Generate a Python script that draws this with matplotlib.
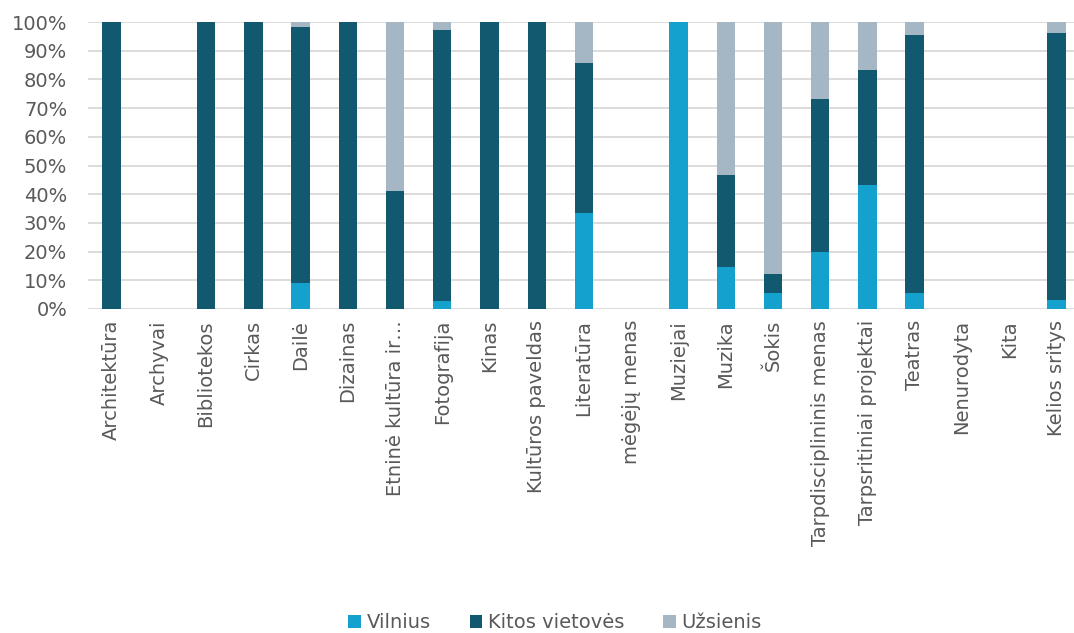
import numpy as np
import matplotlib
matplotlib.use("Agg")
import matplotlib.pyplot as plt
from matplotlib.ticker import PercentFormatter

# Sritys ir dalys (%)
sritys = ["Architektūra", "Archyvai", "Bibliotekos", "Cirkas", "Dailė", "Dizainas",
          "Etninė kultūra ir…", "Fotografija", "Kinas", "Kultūros paveldas",
          "Literatūra", "mėgėjų menas", "Muziejai", "Muzika", "Šokis",
          "Tarpdisciplininis menas", "Tarpsritiniai projektai", "Teatras",
          "Nenurodyta", "Kita", "Kelios sritys"]
vilnius = [0, 0, 0, 0, 9.0, 0, 0, 2.8, 0, 0, 33.3, 0, 100, 14.6, 5.6, 20.0, 43.3, 5.6, 0, 0, 3.2]
kitos = [100, 0, 100, 100, 89.4, 100, 41.0, 94.5, 100, 100, 52.4, 0, 0, 32.1, 6.6, 53.3, 40.0, 90.0, 0, 0, 93.0]
uzsienis = [0, 0, 0, 0, 1.6, 0, 59.0, 2.7, 0, 0, 14.3, 0, 0, 53.3, 87.8, 26.7, 16.7, 4.4, 0, 0, 3.8]

plt.rcParams['font.family'] = ['DejaVu Sans']
pilka = "#595959"

fig = plt.figure(figsize=(10.74, 6.33), dpi=100)
ax = fig.add_axes([88/1074, 1 - 309/633, (1080 - 88)/1074, (309 - 22)/633])

x = np.arange(len(sritys))
v = np.array(vilnius) / 100
k = np.array(kitos) / 100
u = np.array(uzsienis) / 100
w = 0.39
ax.bar(x, v, w, color="#15A1CE", label="Vilnius", zorder=3)
ax.bar(x, k, w, bottom=v, color="#12586F", label="Kitos vietovės", zorder=3)
ax.bar(x, u, w, bottom=v + k, color="#A5B6C4", label="Užsienis", zorder=3)

ax.set_xlim(-0.5, len(sritys) - 0.5)
ax.set_ylim(0, 1)
ax.set_yticks(np.arange(0, 1.01, 0.1))
ax.yaxis.set_major_formatter(PercentFormatter(1.0, decimals=0))
ax.grid(axis="y", color="#D9D9D9", linewidth=1.3, zorder=0)
for s in ax.spines.values():
    s.set_visible(False)
ax.tick_params(length=0, colors=pilka, labelsize=14)
ax.tick_params(axis="y", pad=15)
ax.tick_params(axis="x", pad=8)
ax.set_xticks(x)
ax.set_xticklabels(sritys, rotation=90, color=pilka, fontsize=14)

fig.legend(loc="center", bbox_to_anchor=(555/1074, 1 - 623/633), ncol=3, frameon=False,
           fontsize=14, labelcolor=pilka, handlelength=0.65, handleheight=0.65,
           handletextpad=0.3, columnspacing=2.0)

fig.savefig("out.png", dpi=100)
